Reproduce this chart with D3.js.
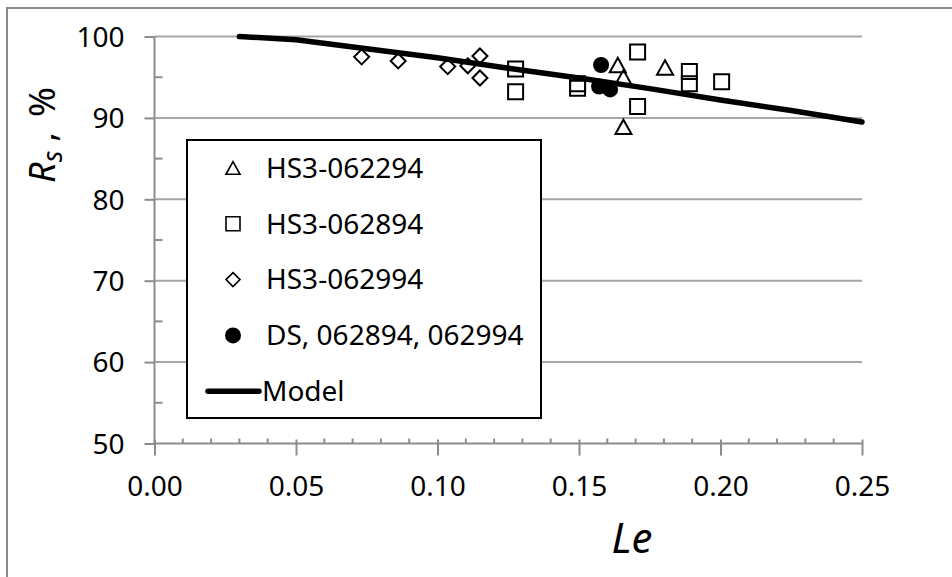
<!DOCTYPE html>
<html><head><meta charset="utf-8">
<script src="https://cdn.jsdelivr.net/npm/d3@7"></script>
<style>html,body{margin:0;padding:0;background:#fff;overflow:hidden}</style>
</head><body>
<svg id="c" width="952" height="577"></svg>
<script>
// ---- data ----
const seriesNames = ["HS3-062294", "HS3-062894", "HS3-062994", "DS, 062894, 062994", "Model"];
const hs062294 = [[0.1637, 96.5], [0.1657, 95.0], [0.1804, 96.2], [0.1657, 88.9]];
const hs062894 = [[0.1276, 96.0], [0.1276, 93.2], [0.1495, 94.2], [0.1495, 93.65], [0.1707, 98.1], [0.1707, 91.4], [0.189, 95.7], [0.189, 94.2], [0.2004, 94.45]];
const hs062994 = [[0.0732, 97.5], [0.0861, 97.0], [0.1036, 96.3], [0.1107, 96.4], [0.115, 97.6], [0.115, 94.9]];
const ds = [[0.1578, 96.5], [0.1571, 93.85], [0.161, 93.5]];
const modelX = [0.03, 0.05, 0.075, 0.10, 0.125, 0.15, 0.175, 0.20, 0.225, 0.25];
const modelY = [100, 99.6, 98.5, 97.4, 96.1, 94.9, 93.6, 92.2, 90.9, 89.5];
const xTicks = [0, 0.05, 0.10, 0.15, 0.20, 0.25];
const yTicks = [50, 60, 70, 80, 90, 100];

// ---- setup ----
const svg = d3.select("#c");
const x = d3.scaleLinear().domain([0, 0.25]).range([154.5, 862]);
const y = d3.scaleLinear().domain([50, 100]).range([443.5, 36.5]);
const FONT = "'Noto Sans', 'Open Sans', sans-serif";
const axisCol = "#8c8c8c", gridCol = "#a6a6a6";
const FS = 28;

// outer border
svg.append("rect").attr("x", 7).attr("y", 8).attr("width", 1000).attr("height", 1000)
  .attr("fill", "none").attr("stroke", "#8c8c8c").attr("stroke-width", 2);

// gridlines
svg.append("g").selectAll("line").data(yTicks.filter(d => d > 50)).join("line")
  .attr("x1", x(0)).attr("x2", x(0.25)).attr("y1", d => y(d)).attr("y2", d => y(d))
  .attr("stroke", gridCol).attr("stroke-width", 2);

// y axis
const yAxis = d3.axisLeft(y).tickValues(yTicks).tickSize(10).tickPadding(20).tickFormat(d3.format("d"));
const gy = svg.append("g").attr("transform", `translate(${x(0)},0)`).call(yAxis);
gy.select(".domain").attr("stroke", axisCol).attr("stroke-width", 2).attr("d", `M0,${y(50)}V${y(100)}`);
gy.selectAll(".tick line").attr("stroke", axisCol).attr("stroke-width", 2);
gy.selectAll(".tick text").attr("font-family", FONT).attr("font-size", FS).attr("fill", "#000").attr("dy", "0.35em").attr("x", -30);
// y minor ticks (inside)
svg.append("g").selectAll("line").data([55, 65, 75, 85, 95]).join("line")
  .attr("x1", x(0)).attr("x2", x(0) + 8).attr("y1", d => y(d)).attr("y2", d => y(d))
  .attr("stroke", axisCol).attr("stroke-width", 2);

// x axis
const xAxis = d3.axisBottom(x).tickValues(xTicks).tickSize(12).tickPadding(21).tickFormat(d3.format(".2f"));
const gx = svg.append("g").attr("transform", `translate(0,${y(50)})`).call(xAxis);
gx.select(".domain").attr("stroke", axisCol).attr("stroke-width", 2).attr("d", `M${x(0)},0H${x(0.25)}`);
gx.selectAll(".tick line").attr("stroke", axisCol).attr("stroke-width", 2).attr("y1", -4);
gx.selectAll(".tick text").attr("font-family", FONT).attr("font-size", FS).attr("fill", "#000");
// x minor ticks
const minorX = d3.range(1, 25).map(i => i / 100).filter(v => Math.round(v * 100) % 5 !== 0);
svg.append("g").selectAll("line").data(minorX).join("line")
  .attr("x1", d => x(d)).attr("x2", d => x(d)).attr("y1", y(50) - 5).attr("y2", y(50))
  .attr("stroke", axisCol).attr("stroke-width", 2);

// axis titles
svg.append("text").attr("x", 632).attr("y", 553).attr("text-anchor", "middle")
  .attr("font-family", FONT).attr("font-size", 42).attr("font-style", "italic").text("Le");
const yt = svg.append("text").attr("transform", "translate(55,135) rotate(-90)").attr("text-anchor", "middle")
  .attr("font-family", FONT).attr("font-size", 36);
yt.append("tspan").attr("font-style", "italic").text("R");
yt.append("tspan").attr("font-style", "italic").attr("font-size", 27).attr("dy", 7).text("s");
yt.append("tspan").attr("dy", -7).attr("dx", 9).text(",");
yt.append("tspan").attr("dx", 15).text("%");

// ---- marker shapes ----
function tri(cx, cy, s) { const h = s * 0.9; return `M${cx},${cy - h / 2}L${cx + s / 2},${cy + h / 2}L${cx - s / 2},${cy + h / 2}Z`; }
function sq(cx, cy, s) { return `M${cx - s / 2},${cy - s / 2}h${s}v${s}h${-s}Z`; }
function dia(cx, cy, s) { return `M${cx},${cy - s / 2}L${cx + s / 2},${cy}L${cx},${cy + s / 2}L${cx - s / 2},${cy}Z`; }

// model line
const line = d3.line().x(d => x(d[0])).y(d => y(d[1]));
svg.append("path").datum(modelX.map((v, i) => [v, modelY[i]])).attr("d", line)
  .attr("fill", "none").attr("stroke", "#000").attr("stroke-width", 5.5).attr("stroke-linecap", "round");

// points
const pts = svg.append("g");
pts.selectAll(".t").data(hs062294).join("path").attr("d", d => tri(x(d[0]), y(d[1]), 16))
  .attr("fill", "none").attr("stroke", "#000").attr("stroke-width", 2);
pts.selectAll(".s").data(hs062894).join("path").attr("d", d => sq(x(d[0]), y(d[1]), 15))
  .attr("fill", "none").attr("stroke", "#000").attr("stroke-width", 2);
pts.selectAll(".d").data(hs062994).join("path").attr("d", d => dia(x(d[0]), y(d[1]), 15))
  .attr("fill", "none").attr("stroke", "#000").attr("stroke-width", 2);
pts.selectAll(".c").data(ds).join("circle").attr("cx", d => x(d[0])).attr("cy", d => y(d[1])).attr("r", 8)
  .attr("fill", "#000");

// ---- legend ----
const lg = svg.append("g");
lg.append("rect").attr("x", 187).attr("y", 140).attr("width", 354).attr("height", 278)
  .attr("fill", "#fff").attr("stroke", "#000").attr("stroke-width", 2);
const rowY = i => 168 + i * 55.8;
const mx = 233;
lg.append("path").attr("d", tri(mx, rowY(0), 14)).attr("fill", "none").attr("stroke", "#000").attr("stroke-width", 1.6);
lg.append("path").attr("d", sq(mx, rowY(1), 14)).attr("fill", "none").attr("stroke", "#000").attr("stroke-width", 1.6);
lg.append("path").attr("d", dia(mx, rowY(2), 14)).attr("fill", "none").attr("stroke", "#000").attr("stroke-width", 1.6);
lg.append("circle").attr("cx", mx).attr("cy", rowY(3)).attr("r", 8).attr("fill", "#000");
lg.append("line").attr("x1", 208).attr("x2", 259).attr("y1", rowY(4)).attr("y2", rowY(4))
  .attr("stroke", "#000").attr("stroke-width", 5.5).attr("stroke-linecap", "round");
lg.selectAll(".lt").data(seriesNames).join("text")
  .attr("x", (d, i) => i === 4 ? 262 : 266).attr("y", (d, i) => rowY(i)).attr("dy", "0.35em")
  .attr("font-family", FONT).attr("font-size", FS).attr("fill", "#000").text(d => d);
</script>
</body></html>
